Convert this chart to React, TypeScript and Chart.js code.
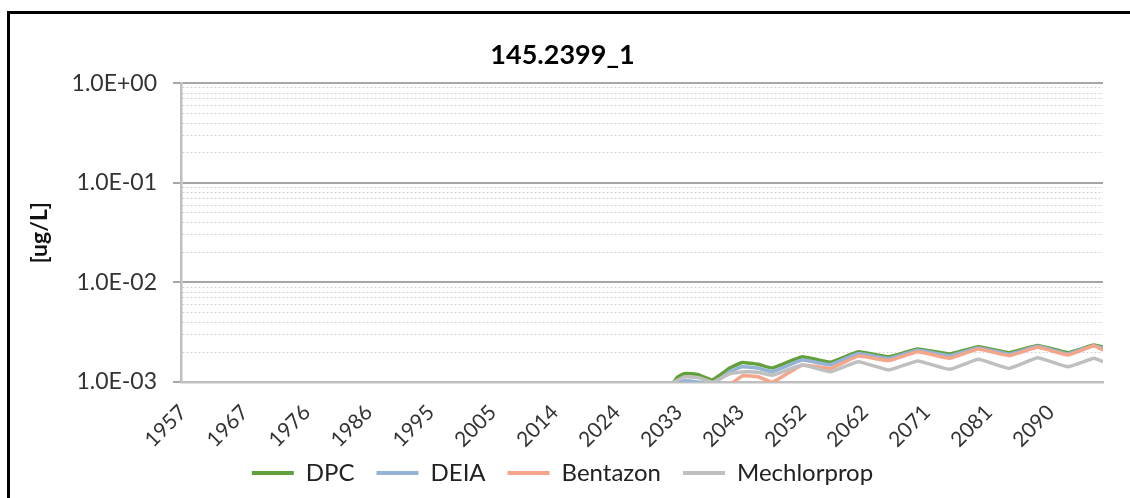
import React, { useEffect, useRef } from 'react';
import { Chart, registerables } from 'chart.js';

Chart.register(...registerables);

// Decimal years of the read-off points (shared by all series)
const years = [
  2032.5, 2033.3, 2034.4, 2036.4, 2038.6, 2041.3, 2043.2, 2045.6, 2047.8, 2052.4,
  2056.7, 2061.0, 2065.7, 2070.1, 2075.0, 2079.4, 2084.1, 2088.5, 2093.1, 2097.1, 2098.5,
];

const dpc = [
  0.00095, 0.00112, 0.00122, 0.00119, 0.00105, 0.00138, 0.00157, 0.00151, 0.00138, 0.00179,
  0.00158, 0.00201, 0.00179, 0.00214, 0.00191, 0.00226, 0.00197, 0.00233, 0.00197, 0.00235, 0.00224,
];
const deia = [
  null, 0.00097, 0.00103, 0.00100, 0.00095, 0.00127, 0.00142, 0.00138, 0.00127, 0.00166,
  0.00149, 0.00193, 0.00172, 0.00208, 0.00184, 0.00220, 0.00190, 0.00228, 0.00192, 0.00232, 0.00218,
];
const bentazon = [
  null, null, null, null, null, 0.00093, 0.00115, 0.00113, 0.00099, 0.00148,
  0.00137, 0.00182, 0.00164, 0.00201, 0.00173, 0.00214, 0.00184, 0.00223, 0.00187, 0.00231, 0.00209,
];
const mechlorprop = [
  0.00097, 0.00104, 0.00113, 0.00111, 0.00099, 0.00121, 0.00126, 0.00125, 0.00117, 0.00148,
  0.00127, 0.00160, 0.00132, 0.00163, 0.00134, 0.00169, 0.00137, 0.00175, 0.00142, 0.00173, 0.00160,
];

const seriesNames = ['DPC', 'DEIA', 'Bentazon', 'Mechlorprop'];
const seriesColors = ['#62A03C', '#95B3D7', '#F4A58A', '#BFBFBF'];

const xTickLabels = ['1957', '1967', '1976', '1986', '1995', '2005', '2014', '2024', '2033', '2043', '2052', '2062', '2071', '2081', '2090'];
const xFirstTick = 1957.5;
const xTickStep = 9.5;
const xMin = 1957.2;
const xMax = 2098.5;

const yTickLabels = ['1.0E-03', '1.0E-02', '1.0E-01', '1.0E+00'];
const yMin = 0.001;
const yMax = 1;

const FONT = 'Lato, "Open Sans", sans-serif';

function isPow10(v: number) {
  const e = Math.log10(v);
  return Math.abs(e - Math.round(e)) < 1e-6;
}
function isIntMantissa(v: number) {
  const e = Math.floor(Math.log10(v) + 1e-9);
  const m = v / Math.pow(10, e);
  return Math.abs(m - Math.round(m)) < 1e-6;
}
function majorCtx(ctx: any) {
  return !ctx || !ctx.tick || isPow10(ctx.tick.value);
}

export default function App() {
  const ref = useRef<HTMLCanvasElement>(null);

  useEffect(() => {
    const values = [dpc, deia, bentazon, mechlorprop];
    const chart = new Chart(ref.current as HTMLCanvasElement, {
      type: 'line',
      data: {
        datasets: values.map((vals, i) => ({
          label: seriesNames[i],
          data: years.map((x, j) => ({ x, y: vals[j] })),
          borderColor: seriesColors[i],
          backgroundColor: seriesColors[i],
          borderWidth: 3.5,
          pointRadius: 0,
          tension: 0.1,
          fill: false,
          order: values.length - 1 - i,
        })),
      },
      options: {
        animation: false,
        responsive: true,
        maintainAspectRatio: false,
        layout: { padding: { top: 39, left: 22, right: 53, bottom: 3 } },
        plugins: {
          title: {
            display: true,
            text: '145.2399_1',
            color: '#000',
            font: { family: FONT, size: 27, weight: 'bold' },
            padding: { top: 0, bottom: 12 },
          },
          legend: {
            position: 'bottom',
            labels: {
              font: { family: FONT, size: 24 },
              color: '#222',
              boxWidth: 42,
              boxHeight: 4,
              padding: 22,
              sort: (a: any, b: any) => a.datasetIndex - b.datasetIndex,
              generateLabels: (c: any) =>
                (Chart.defaults.plugins.legend.labels as any).generateLabels(c).map((l: any) => ({ ...l, lineWidth: 0 })),
            },
          },
          tooltip: { enabled: false },
        },
        scales: {
          x: {
            type: 'linear',
            min: xMin,
            max: xMax,
            afterBuildTicks: (scale: any) => {
              scale.ticks = xTickLabels.map((_, i) => ({ value: xFirstTick + i * xTickStep }));
            },
            afterFit: (scale: any) => {
              scale.height = 57;
              // let the rotated labels overflow the (fixed) scale box instead of being clipped
              scale._computeLabelArea = () => undefined;
            },
            grid: { display: false, drawTicks: false },
            border: { display: true, color: '#BFBFBF', width: 2.5 },
            ticks: {
              autoSkip: false,
              maxRotation: 45,
              minRotation: 45,
              padding: 18,
              color: '#333',
              font: { family: FONT, size: 21 },
              callback: (_v: any, i: number) => xTickLabels[i] ?? '',
            },
          },
          y: {
            type: 'logarithmic',
            min: yMin,
            max: yMax,
            afterBuildTicks: (scale: any) => {
              scale.ticks = scale.ticks
                .filter((t: any) => isIntMantissa(t.value))
                .map((t: any) => ({ value: t.value, major: isPow10(t.value) }));
            },
            afterFit: (scale: any) => {
              scale.width = 159;
            },
            title: {
              display: true,
              text: '[ug/L]',
              color: '#111',
              font: { family: FONT, size: 23, weight: 'bold' },
              padding: { top: 4, bottom: 0 },
            },
            ticks: {
              autoSkip: false,
              padding: 16,
              color: '#333',
              font: { family: FONT, size: 23 },
              callback: (v: any) => {
                const n = Number(v);
                if (!isPow10(n)) return '';
                return yTickLabels[Math.round(Math.log10(n)) + 3] ?? '';
              },
            },
            grid: {
              color: (ctx: any) => (majorCtx(ctx) ? '#A6A6A6' : '#D2D2D2'),
              lineWidth: (ctx: any) => (majorCtx(ctx) ? 2 : 1),
              tickColor: (ctx: any) => (majorCtx(ctx) ? '#A6A6A6' : 'rgba(0,0,0,0)'),
              tickLength: 8,
              tickWidth: 2,
            },
            border: {
              display: true,
              color: '#BFBFBF',
              width: 2.5,
              dash: (ctx: any) => (majorCtx(ctx) ? [] : [2, 2]),
            },
          },
        },
      } as any,
    });
    return () => chart.destroy();
  }, []);

  return (
    <div style={{ position: 'fixed', left: 0, top: 0, width: 1130, height: 498, overflow: 'hidden', background: '#fff' }}>
      <div
        style={{
          position: 'absolute',
          left: 7,
          top: 11,
          width: 1300,
          height: 700,
          borderLeft: '3px solid #000',
          borderTop: '3px solid #000',
          boxSizing: 'border-box',
        }}
      />
      <div style={{ position: 'absolute', left: 0, top: 0, width: 1156, height: 498 }}>
        <canvas ref={ref} />
      </div>
    </div>
  );
}
